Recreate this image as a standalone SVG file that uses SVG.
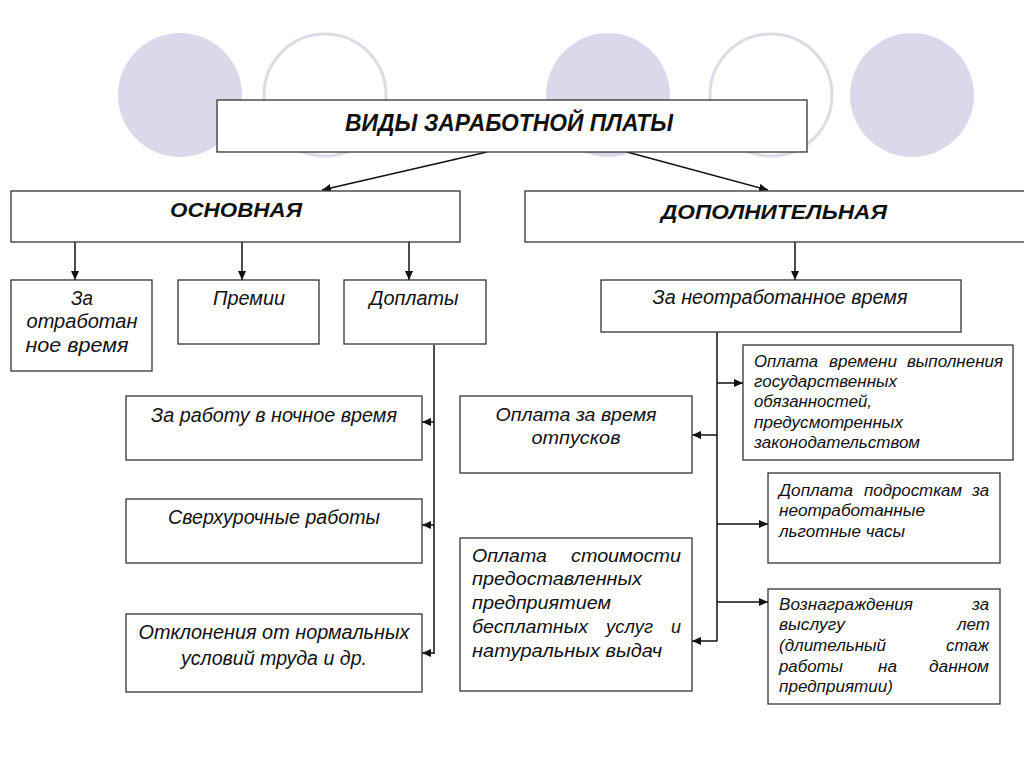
<svg xmlns="http://www.w3.org/2000/svg" width="1024" height="767" viewBox="0 0 1024 767">
<style>
.bg{fill:#ffffff}
.cf{fill:#d9d9eb;stroke:none}
.co{fill:none;stroke:#dcdce6;stroke-width:3}
.box{fill:#ffffff;stroke:#333333;stroke-width:1.3}
.t{font-family:"Liberation Sans",Arial,sans-serif;font-style:italic;fill:#111111}
.h{font-weight:bold;font-size:21px}
.m{font-size:19.5px}
.s{font-size:16px}
.l{font-size:19px}
.c{text-anchor:middle}
.ln{fill:none;stroke:#111111;stroke-width:1.5}
</style>
<defs>
<marker id="ah" markerUnits="userSpaceOnUse" markerWidth="10" markerHeight="8" refX="9" refY="4" orient="auto">
<path d="M0,0 L9,4 L0,8 Z" fill="#111111"/>
</marker>
</defs>
<rect class="bg" x="0" y="0" width="1024" height="767"/>
<g id="background">
<circle class="cf" cx="180" cy="95" r="62"/>
<circle class="co" cx="325" cy="95" r="61"/>
<circle class="cf" cx="608" cy="95" r="62"/>
<circle class="co" cx="771" cy="95" r="61"/>
<circle class="cf" cx="912" cy="95" r="62"/>
</g>
<g id="connectors">
<path class="ln" d="M487,152 L322,190" marker-end="url(#ah)"/>
<path class="ln" d="M627,152 L768,190" marker-end="url(#ah)"/>
<path class="ln" d="M75,242 V280" marker-end="url(#ah)"/>
<path class="ln" d="M242,242 V280" marker-end="url(#ah)"/>
<path class="ln" d="M409,242 V280" marker-end="url(#ah)"/>
<path class="ln" d="M434,345 V654"/>
<path class="ln" d="M434,422 H422" marker-end="url(#ah)"/>
<path class="ln" d="M434,525 H422" marker-end="url(#ah)"/>
<path class="ln" d="M434,653 H422" marker-end="url(#ah)"/>
<path class="ln" d="M795,242 V280" marker-end="url(#ah)"/>
<path class="ln" d="M717,332 V641"/>
<path class="ln" d="M717,383 H743" marker-end="url(#ah)"/>
<path class="ln" d="M717,435 H692" marker-end="url(#ah)"/>
<path class="ln" d="M717,524 H768" marker-end="url(#ah)"/>
<path class="ln" d="M717,602 H768" marker-end="url(#ah)"/>
<path class="ln" d="M717,641 H692" marker-end="url(#ah)"/>
</g>
<g id="root">
<rect class="box" x="217" y="100" width="590" height="52"/>
<text class="t c" x="509" y="131" font-weight="bold" font-size="24.5" textLength="328" lengthAdjust="spacingAndGlyphs">ВИДЫ ЗАРАБОТНОЙ ПЛАТЫ</text>
</g>
<g id="osnovnaya">
<rect class="box" x="11" y="191" width="449" height="51"/>
<text class="t h c" x="236" y="217" textLength="132" lengthAdjust="spacingAndGlyphs">ОСНОВНАЯ</text>
</g>
<g id="dopolnitelnaya">
<rect class="box" x="525" y="191" width="510" height="51"/>
<text class="t h c" x="774" y="219" textLength="226" lengthAdjust="spacingAndGlyphs">ДОПОЛНИТЕЛЬНАЯ</text>
</g>
<g id="otrabotannoe">
<rect class="box" x="11" y="280" width="141" height="91"/>
<text class="t m c" x="82" y="305" textLength="22" lengthAdjust="spacingAndGlyphs">За</text>
<text class="t m c" x="82" y="328" textLength="111" lengthAdjust="spacingAndGlyphs">отработан</text>
<text class="t m c" x="77" y="352" textLength="103" lengthAdjust="spacingAndGlyphs">ное время</text>
</g>
<g id="premii">
<rect class="box" x="178" y="280" width="141" height="64"/>
<text class="t m c" x="249" y="305" textLength="72" lengthAdjust="spacingAndGlyphs">Премии</text>
</g>
<g id="doplaty">
<rect class="box" x="344" y="280" width="142" height="64"/>
<text class="t m c" x="414" y="305" textLength="89" lengthAdjust="spacingAndGlyphs">Доплаты</text>
</g>
<g id="nochnoe">
<rect class="box" x="126" y="396" width="296" height="64"/>
<text class="t m c" x="274" y="422" textLength="246" lengthAdjust="spacingAndGlyphs">За работу в ночное время</text>
</g>
<g id="sverhurochnye">
<rect class="box" x="126" y="499" width="296" height="64"/>
<text class="t m c" x="274" y="524" textLength="212" lengthAdjust="spacingAndGlyphs">Сверхурочные работы</text>
</g>
<g id="otkloneniya">
<rect class="box" x="126" y="614" width="296" height="78"/>
<text class="t m c" x="274" y="639" textLength="271" lengthAdjust="spacingAndGlyphs">Отклонения от нормальных</text>
<text class="t m c" x="274" y="665" textLength="186" lengthAdjust="spacingAndGlyphs">условий труда и др.</text>
</g>
<g id="neotrabotannoe">
<rect class="box" x="601" y="280" width="360" height="52"/>
<text class="t m c" x="780" y="304" textLength="255" lengthAdjust="spacingAndGlyphs">За неотработанное время</text>
</g>
<g id="gosobyazannosti">
<rect class="box" x="743" y="345" width="270" height="115"/>
<text class="t s" x="754" y="367" textLength="64" lengthAdjust="spacingAndGlyphs">Оплата</text>
<text class="t s" x="829" y="367" textLength="68" lengthAdjust="spacingAndGlyphs">времени</text>
<text class="t s" x="907" y="367" textLength="96" lengthAdjust="spacingAndGlyphs">выполнения</text>
<text class="t s" x="754" y="387" textLength="143" lengthAdjust="spacingAndGlyphs">государственных</text>
<text class="t s" x="754" y="407" textLength="118" lengthAdjust="spacingAndGlyphs">обязанностей,</text>
<text class="t s" x="754" y="428" textLength="149" lengthAdjust="spacingAndGlyphs">предусмотренных</text>
<text class="t s" x="754" y="448" textLength="166" lengthAdjust="spacingAndGlyphs">законодательством</text>
</g>
<g id="otpuska">
<rect class="box" x="460" y="396" width="232" height="77"/>
<text class="t l c" x="576" y="421" textLength="161" lengthAdjust="spacingAndGlyphs">Оплата за время</text>
<text class="t l c" x="576" y="444" textLength="89" lengthAdjust="spacingAndGlyphs">отпусков</text>
</g>
<g id="podrostki">
<rect class="box" x="768" y="473" width="232" height="90"/>
<text class="t s" x="779" y="496" textLength="74" lengthAdjust="spacingAndGlyphs">Доплата</text>
<text class="t s" x="864" y="496" textLength="98" lengthAdjust="spacingAndGlyphs">подросткам</text>
<text class="t s" x="972" y="496" textLength="17" lengthAdjust="spacingAndGlyphs">за</text>
<text class="t s" x="779" y="516" textLength="146" lengthAdjust="spacingAndGlyphs">неотработанные</text>
<text class="t s" x="779" y="537" textLength="126" lengthAdjust="spacingAndGlyphs">льготные часы</text>
</g>
<g id="uslugi">
<rect class="box" x="460" y="538" width="232" height="153"/>
<text class="t l" x="472" y="562" textLength="75" lengthAdjust="spacingAndGlyphs">Оплата</text>
<text class="t l" x="571" y="562" textLength="110" lengthAdjust="spacingAndGlyphs">стоимости</text>
<text class="t l" x="472" y="585" textLength="170" lengthAdjust="spacingAndGlyphs">предоставленных</text>
<text class="t l" x="472" y="609" textLength="139" lengthAdjust="spacingAndGlyphs">предприятием</text>
<text class="t l" x="472" y="633" textLength="116" lengthAdjust="spacingAndGlyphs">бесплатных</text>
<text class="t l" x="606" y="633" textLength="47" lengthAdjust="spacingAndGlyphs">услуг</text>
<text class="t l" x="671" y="633" textLength="10" lengthAdjust="spacingAndGlyphs">и</text>
<text class="t l" x="472" y="657" textLength="190" lengthAdjust="spacingAndGlyphs">натуральных выдач</text>
</g>
<g id="vysluga">
<rect class="box" x="768" y="589" width="232" height="115"/>
<text class="t s" x="779" y="610" textLength="134" lengthAdjust="spacingAndGlyphs">Вознаграждения</text>
<text class="t s" x="972" y="610" textLength="17" lengthAdjust="spacingAndGlyphs">за</text>
<text class="t s" x="779" y="630" textLength="66" lengthAdjust="spacingAndGlyphs">выслугу</text>
<text class="t s" x="957" y="630" textLength="33" lengthAdjust="spacingAndGlyphs">лет</text>
<text class="t s" x="779" y="651" textLength="107" lengthAdjust="spacingAndGlyphs">(длительный</text>
<text class="t s" x="946" y="651" textLength="43" lengthAdjust="spacingAndGlyphs">стаж</text>
<text class="t s" x="779" y="672" textLength="64" lengthAdjust="spacingAndGlyphs">работы</text>
<text class="t s" x="878" y="672" textLength="19" lengthAdjust="spacingAndGlyphs">на</text>
<text class="t s" x="929" y="672" textLength="60" lengthAdjust="spacingAndGlyphs">данном</text>
<text class="t s" x="779" y="692" textLength="114" lengthAdjust="spacingAndGlyphs">предприятии)</text>
</g>
</svg>
